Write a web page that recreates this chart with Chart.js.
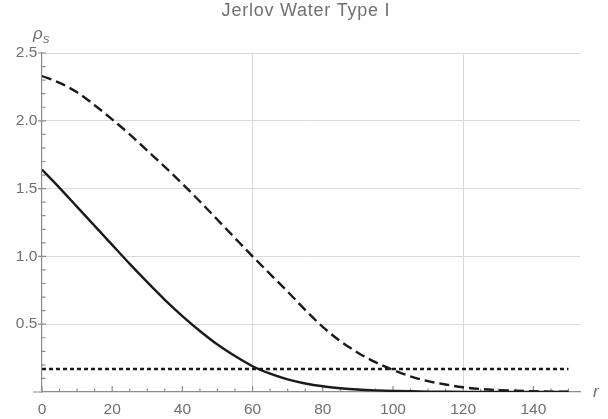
<!DOCTYPE html>
<html>
<head>
<meta charset="utf-8">
<script src="https://cdn.jsdelivr.net/npm/chart.js@4.4.1/dist/chart.umd.min.js"></script>
<style>
  body { margin: 0; background: #fff; }
  #wrap { width: 608px; height: 419px; position: relative; }
</style>
</head>
<body>
<div id="wrap"><canvas id="rhoChart"></canvas></div>
<script>
// values
const rValues = [0, 5, 10, 15, 20, 25, 30, 35, 40, 45, 50, 55, 60, 65, 70, 75,
                 80, 85, 90, 95, 100, 105, 110, 115, 120, 125, 130, 135, 140, 145, 150];
const solidValues = [1.64, 1.505, 1.365, 1.225, 1.085, 0.945, 0.81, 0.68, 0.56, 0.45, 0.35, 0.265, 0.19, 0.135, 0.093, 0.063,
                     0.042, 0.028, 0.018, 0.012, 0.008, 0.005, 0.003, 0.002, 0.001, 0.001, 0, 0, 0, 0, 0];
const dashedValues = [2.33, 2.28, 2.21, 2.115, 2.01, 1.90, 1.78, 1.66, 1.535, 1.405, 1.27, 1.135, 1.0, 0.87, 0.74, 0.605,
                      0.48, 0.375, 0.29, 0.22, 0.163, 0.115, 0.08, 0.055, 0.035, 0.022, 0.014, 0.009, 0.005, 0.003, 0.002];
const dottedR = [0, 150];
const dottedValues = [0.17, 0.17];

const xTicks = [0, 20, 40, 60, 80, 100, 120, 140];
const yTicks = [0.5, 1.0, 1.5, 2.0, 2.5];
const xGridAt = [60, 120];
const titleText = 'Jerlov Water Type I';

const labelFont = { family: 'Liberation Sans, Arial, sans-serif', size: 15.5 };
const axisGray = '#8c8c8c';
const textGray = '#707070';

function toPoints(xs, ys) {
    return xs.map((x, i) => ({ x: x, y: ys[i] }));
}

// extra axis bits: tick marks, axis overhang, title and axis labels
const axisDecor = {
    id: 'axisDecor',
    beforeDatasetsDraw(chart) {
        const ctx = chart.ctx;
        const xs = chart.scales.x, ys = chart.scales.y;
        const x0 = xs.getPixelForValue(0);
        const y0 = ys.getPixelForValue(0);
        ctx.save();
        ctx.strokeStyle = axisGray;
        ctx.lineWidth = 1.2;
        ctx.beginPath();
        // x axis runs a little left of the origin
        ctx.moveTo(x0 - 9, y0);
        ctx.lineTo(x0, y0);
        // x ticks, minor every 5
        for (let v = 0; v <= 150; v += 5) {
            const px = xs.getPixelForValue(v);
            const len = xTicks.includes(v) ? 6 : 3.5;
            ctx.moveTo(px, y0);
            ctx.lineTo(px, y0 - len);
        }
        // y ticks, minor every 0.1
        for (let i = 1; i <= 25; i++) {
            const v = i / 10;
            const py = ys.getPixelForValue(v);
            if (i % 5 === 0) {
                ctx.moveTo(x0 - 4, py);
                ctx.lineTo(x0 + 4, py);
            } else {
                ctx.moveTo(x0, py);
                ctx.lineTo(x0 + 3.5, py);
            }
        }
        ctx.stroke();
        ctx.restore();
    },
    afterDraw(chart) {
        const ctx = chart.ctx;
        const area = chart.chartArea;
        ctx.save();
        ctx.fillStyle = textGray;
        // title, a bit wider spaced like the original
        ctx.font = '18px Liberation Sans, Arial, sans-serif';
        ctx.textAlign = 'center';
        ctx.textBaseline = 'middle';
        const w = ctx.measureText(titleText).width;
        ctx.letterSpacing = Math.max(0, (168 - w) / (titleText.length - 1)) + 'px';
        ctx.fillText(titleText, 306, 11.5);
        ctx.letterSpacing = '0px';

        ctx.textBaseline = 'alphabetic';
        ctx.textAlign = 'left';
        ctx.font = 'italic 17px Liberation Sans, Arial, sans-serif';
        ctx.fillText('\u03C1', area.left - 9, area.top - 14);
        ctx.font = 'italic 13px Liberation Sans, Arial, sans-serif';
        ctx.fillText('s', area.left + 1, area.top - 10);
        ctx.font = 'italic 17px Liberation Sans, Arial, sans-serif';
        ctx.fillText('r', area.right + 13, area.bottom + 5);
        ctx.restore();
    }
};

const chart = new Chart(document.getElementById('rhoChart'), {
    type: 'line',
    data: {
        datasets: [
            {
                label: 'solid',
                data: toPoints(rValues, solidValues),
                borderColor: '#1a1a1a',
                borderWidth: 2.4,
                pointRadius: 0,
                cubicInterpolationMode: 'monotone'
            },
            {
                label: 'dashed',
                data: toPoints(rValues, dashedValues),
                borderColor: '#1a1a1a',
                borderWidth: 2.4,
                borderDash: [10, 5],
                pointRadius: 0,
                cubicInterpolationMode: 'monotone'
            },
            {
                label: 'dotted',
                data: toPoints(dottedR, dottedValues),
                borderColor: '#1a1a1a',
                borderWidth: 2.6,
                borderDash: [4, 3],
                pointRadius: 0
            }
        ]
    },
    options: {
        responsive: true,
        maintainAspectRatio: false,
        animation: false,
        layout: { padding: { top: 53, left: 0, right: 28, bottom: 0 } },
        plugins: {
            legend: { display: false },
            tooltip: { enabled: false },
            title: { display: false }
        },
        scales: {
            x: {
                type: 'linear',
                min: 0,
                max: 153.3,
                afterBuildTicks: s => { s.ticks = xTicks.map(v => ({ value: v })); },
                afterFit: s => { s.height = 27; },
                ticks: {
                    color: textGray,
                    font: labelFont,
                    padding: 8,
                    maxRotation: 0,
                    autoSkip: false,
                    callback: v => String(v)
                },
                grid: {
                    drawTicks: false,
                    lineWidth: 1,
                    color: c => (c.tick && xGridAt.includes(c.tick.value)) ? '#d9d9d9' : 'rgba(0,0,0,0)'
                },
                border: { color: axisGray, width: 1.2 }
            },
            y: {
                type: 'linear',
                min: 0,
                max: 2.5,
                afterBuildTicks: s => { s.ticks = yTicks.map(v => ({ value: v })); },
                afterFit: s => { s.width = 42; },
                ticks: {
                    color: textGray,
                    font: labelFont,
                    padding: 4.6,
                    callback: v => v.toFixed(1)
                },
                grid: {
                    drawTicks: false,
                    lineWidth: 1,
                    color: '#d9d9d9'
                },
                border: { color: axisGray, width: 1.2 }
            }
        }
    },
    plugins: [axisDecor]
});
</script>
</body>
</html>
